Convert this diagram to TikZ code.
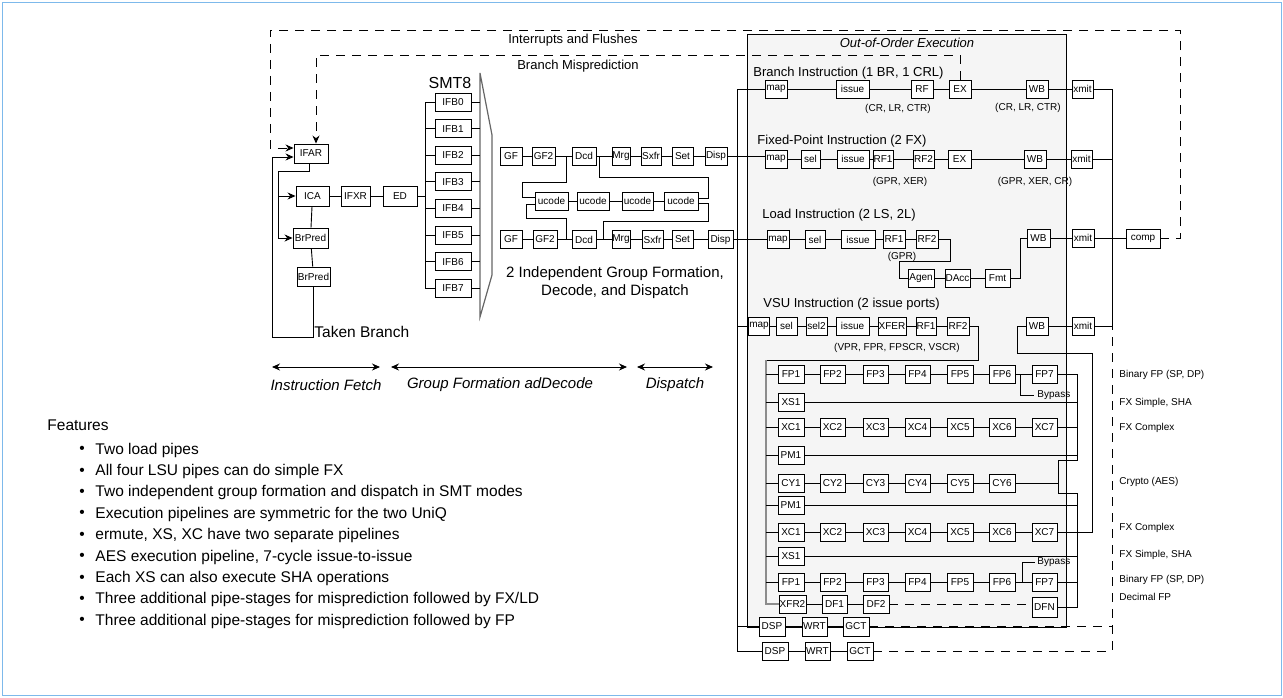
\documentclass[tikz,border=0pt]{standalone}
\usepackage{fontspec}
\setmainfont{Liberation Sans}
\usetikzlibrary{arrows.meta}
\definecolor{oooFill}{RGB}{245,245,245}
\definecolor{frameblue}{RGB}{125,185,235}
\tikzset{
 bx/.style={draw=black, fill=white, line width=0.9pt, inner sep=0.4pt, font=\fontsize{10}{11}\selectfont},
 dsh/.style={line width=0.9pt, dash pattern=on 9pt off 7pt},
 arr/.style={-{Stealth[length=8pt,width=7pt]}},
 darr/.style={{Stealth[length=8pt,width=7pt]}-{Stealth[length=8pt,width=7pt]}, line width=0.9pt},
 sec/.style={font=\fontsize{13}{15}\selectfont, anchor=west, inner sep=0},
 note/.style={font=\fontsize{10}{12}\selectfont, inner sep=0},
 big/.style={font=\fontsize{15}{18}\selectfont, inner sep=0},
 graybus/.style={draw=black!45, line width=1.4pt},
}
\newcommand{\pb}[6][18]{\node[bx,minimum width={#4pt-#3pt},minimum height=#1pt] (#2) at ({(#3+#4)/2},#5) {#6};}
\begin{document}
\begin{tikzpicture}[x=1pt,y=-1pt,line width=0.9pt]
\useasboundingbox (0,0) rectangle (1283,697);
\draw[draw=frameblue,line width=1pt] (2,2) rectangle (1281,695);
% out-of-order box
\draw[fill=oooFill,line width=0.9pt] (747,34) rectangle (1066,627);
\node[font=\itshape\fontsize{13}{15}\selectfont] (ooot) at (907,43) {Out-of-Order Execution};

% ---------------- fetch ----------------
\pb[19]{ifar}{294}{328}{153.5}{IFAR}
\pb[20]{ica}{296}{329}{196}{ICA}
\pb[20]{ifxr}{341}{370}{196}{IFXR}
\pb[20]{ed}{383}{417}{196}{ED}
\pb[20]{brp1}{293}{328}{238}{BrPred}
\pb[19]{brp2}{297}{330}{276.5}{BrPred}
\foreach \i in {0,...,7}{
  \pgfmathsetmacro\yy{102+26.6*\i}
  \pb{ifb\i}{435}{471}{\yy}{IFB\i}
}
\node[font=\fontsize{16}{18}\selectfont,inner sep=0] (smt) at (450,83) {SMT8};
\draw[draw=black!60,line width=1.2pt] (480,73) -- (492,135) -- (492,275) -- (480,317) -- cycle;

\coordinate (fj) at (278,171);
\draw ([xshift=-2pt]ifar.south) |- (fj) -- (fj |- brp1.west);
\draw[arr] (fj |- ica.west) -- (ica.west);
\draw[arr] (fj |- brp1.west) -- (brp1.west);
\draw (ica) -- (brp1);
\draw (brp1) -- (brp2);
\draw (ica) -- (ifxr);
\draw (ifxr) -- (ed);
\coordinate (tb) at (272,337);
\draw[arr] (brp2.south) |- (tb) |- ([yshift=-3.5pt]ifar.west);
\node[big,anchor=west,font=\fontsize{15.5}{18}\selectfont] (tbl) at (314,332) {Taken Branch};

\coordinate (eb) at (425,196);
\draw (ed.east) -- (eb);
\draw (ifb0.west -| eb) -- (ifb7.west -| eb);
\foreach \i in {0,...,7}{
  \draw (ifb\i.west -| eb) -- (ifb\i.west);
  \draw (ifb\i.east) -- ++(9,0);
}

% ---------------- group formation ----------------
\pb{rag}{500}{522}{156}{GF}
\pb{rag2}{532}{555}{156}{GF2}
\pb{radc}{572}{596}{156}{Dcd}
\pb{ramg}{612}{630}{156}{Mrg}
\pb{rasx}{641}{661}{156}{Sxfr}
\pb{rast}{672}{693}{156}{Set}
\pb{radp}{705}{727}{156}{Disp}
\pb{uc1}{535}{568}{201}{ucode}
\pb{uc2}{577}{609}{201}{ucode}
\pb{uc3}{622}{653}{201}{ucode}
\pb{uc4}{664}{698}{201}{ucode}
\pb{rbg}{500}{522}{239.5}{GF}
\pb{rbg2}{533}{557}{239.5}{GF2}
\pb{rbdc}{572}{596}{239.5}{Dcd}
\pb{rbmg}{612}{630}{239.5}{Mrg}
\pb{rbsx}{642}{663}{239.5}{Sxfr}
\pb{rbst}{672}{693}{239.5}{Set}
\pb{rbdp}{708}{733}{239.5}{Disp}
\draw (rag) -- (rag2) -- (radc) -- (ramg) -- (rasx) -- (rast) -- (radp);
\draw (rbg) -- (rbg2) -- (rbdc) -- (rbmg) -- (rbsx) -- (rbst) -- (rbdp);
\draw (uc1) -- (uc2) -- (uc3) -- (uc4);
\draw (566,156) |- (522,182) |- ([yshift=4pt]uc1.west);
\draw (599,156) |- (708,177) |- ([yshift=3pt]uc4.east);
\draw ([yshift=-3pt]uc1.west) -| (526,218) -| (566,239.5);
\draw ([yshift=-2pt]uc4.east) -| (708,221) -| (603,239.5);
\node[align=center,font=\fontsize{15}{18}\selectfont,inner sep=0] (gfl) at (615,283) {2 Independent Group Formation,\\Decode, and Dispatch};

% ---------------- branch ----------------
\node[sec] (bsec) at (753,73) {Branch Instruction (1 BR, 1 CRL)};
\pb{bmap}{765}{787}{89}{map}
\pb{biss}{836}{869}{89}{issue}
\pb{brf}{911}{933}{89}{RF}
\pb{bex}{949}{971}{89}{EX}
\pb{bwb}{1026}{1048}{89}{WB}
\pb{bxm}{1072}{1093}{89}{xmit}
\draw (bmap) -- (biss) -- (brf) -- (bex) -- (bwb) -- (bxm);
\node[note] (bn1) at (898,109) {(CR, LR, CTR)};
\node[note] (bn2) at (1028,108) {(CR, LR, CTR)};

% ---------------- fixed point ----------------
\node[sec] (fsec) at (757,141) {Fixed-Point Instruction (2 FX)};
\pb{fxmap}{765}{787}{159}{map}
\pb{fxsel}{801}{820}{159}{sel}
\pb{fxiss}{837}{869}{159}{issue}
\pb{fxrf1}{873}{893}{159}{RF1}
\pb{fxrf2}{913}{934}{159}{RF2}
\pb{fxex}{948}{971}{159}{EX}
\pb{fxwb}{1024}{1046}{159}{WB}
\pb{fxxm}{1071}{1092}{159}{xmit}
\draw (fxmap) -- (fxsel) -- (fxiss) -- (fxrf1) -- (fxrf2) -- (fxex) -- (fxwb) -- (fxxm);
\node[note] (fn1) at (900,182) {(GPR, XER)};
\node[note] (fn2) at (1035,182) {(GPR, XER, CR)};

% ---------------- load ----------------
\node[sec] (lsec) at (762,215) {Load Instruction (2 LS, 2L)};
\pb{ldmap}{767}{789}{239.5}{map}
\pb{ldsel}{805}{825}{239.5}{sel}
\pb{ldiss}{841}{875}{239.5}{issue}
\pb{ldrf1}{883}{905}{239.5}{RF1}
\pb{ldrf2}{916}{938}{239.5}{RF2}
\pb{ldag}{908}{934}{278}{Agen}
\pb{ldda}{945}{970}{278}{DAcc}
\pb{ldfmt}{985}{1010}{278}{Fmt}
\pb{ldwb}{1027}{1050}{238}{WB}
\pb{ldxm}{1072}{1094}{238}{xmit}
\pb[19]{ldcomp}{1126}{1160}{238.5}{comp}
\draw (ldmap) -- (ldsel) -- (ldiss) -- (ldrf1) -- (ldrf2);
\draw (ldrf2.east) -| (950,261) -| (899,278) -- (ldag.west);
\draw (ldag) -- (ldda) -- (ldfmt);
\draw (ldfmt.east) -| (1020,238) -- (ldwb.west);
\draw (ldwb) -- (ldxm);
\draw (ldxm.east) -- (ldxm.east -| ldcomp.west);
\node[note] (ln1) at (902,257) {(GPR)};

% ---------------- VSU ----------------
\node[sec] (vsec) at (763,304) {VSU Instruction (2 issue ports)};
\pb{vmap}{749}{769}{326}{map}
\pb{vsel}{776}{797}{326}{sel}
\pb{vsel2}{806}{827}{326}{sel2}
\pb{viss}{836}{869}{326}{issue}
\pb{vxfer}{878}{906}{326}{XFER}
\pb{vrf1}{916}{936}{326}{RF1}
\pb{vrf2}{947}{969}{326}{RF2}
\pb{vwb}{1026}{1048}{326}{WB}
\pb{vxm}{1072}{1094}{326}{xmit}
\draw (vmap) -- (vsel) -- (vsel2) -- (viss) -- (vxfer) -- (vrf1) -- (vrf2);
\draw (vwb) -- (vxm);
\node[note] (vn1) at (897,348) {(VPR, FPR, FPSCR, VSCR)};

% ---------------- execution units ----------------
\foreach \n/\a/\b in {1/778/804,2/820/845,3/863/888,4/905/930,5/947/973,6/989/1015,7/1032/1057}{
  \pb{fpa\n}{\a}{\b}{374}{FP\n}
  \pb{xca\n}{\a}{\b}{427}{XC\n}
  \pb{xcb\n}{\a}{\b}{532}{XC\n}
  \pb{fpb\n}{\a}{\b}{582}{FP\n}
}
\foreach \n/\a/\b in {1/778/804,2/820/845,3/863/888,4/905/930,5/947/973,6/989/1015}{
  \pb{cy\n}{\a}{\b}{483}{CY\n}
}
\pb{xsa}{778}{804}{402}{XS1}
\pb{pma}{778}{804}{455}{PM1}
\pb{pmb}{778}{804}{505}{PM1}
\pb{xsb}{778}{804}{556}{XS1}
\pb{xfr}{779}{806}{604}{XFR2}
\pb{df1}{822}{847}{604}{DF1}
\pb{df2}{863}{889}{604}{DF2}
\pb[20]{dfn}{1032}{1057}{607}{DFN}
\foreach \i in {1,...,6}{
  \pgfmathtruncatemacro\j{\i+1}
  \draw (fpa\i) -- (fpa\j);
  \draw (xca\i) -- (xca\j);
  \draw (xcb\i) -- (xcb\j);
  \draw (fpb\i) -- (fpb\j);
}
\foreach \i in {1,...,5}{
  \pgfmathtruncatemacro\j{\i+1}
  \draw (cy\i) -- (cy\j);
}
\draw (xfr) -- (df1) -- (df2);
\draw[dsh] (df2.east) -- (dfn.west |- df2.east);

% issue bus from VSU RF2
\draw (vrf2.east) -| (978,360) -- (766,360);
\draw[graybus] (766,360) |- (xfr.west);
\coordinate (ib) at (766,0);
\foreach \nd in {fpa1,xsa,xca1,pma,cy1,pmb,xcb1,xsb,fpb1}{
  \draw (ib |- \nd.west) -- (\nd.west);
}

% result buses
\coordinate (ob) at (1077,0);
\coordinate (ob2) at (1058,0);
\draw (fpa7.east) -- (1077,374) -- (1077,460) -- (1058,460) -- (1058,493) -- (1077,493) -- (1077,607) -- (dfn.east);
\foreach \nd in {xsa,xca7,pma,pmb,xsb,fpb7}{
  \draw (\nd.east) -- (\nd.east -| ob);
}
\draw (cy6.east) -- (cy6.east -| ob2);
\draw (xcb7.east) -| (1092,353) -| (1017,326) -- (vwb.west);

% bypasses
\draw (1020,374) |- (1034,395);
\node[note,anchor=west] (bp1) at (1037,395) {Bypass};
\draw (1022,582) |- (1035,562);
\node[note,anchor=west] (bp2) at (1037,562) {Bypass};

% right labels
\node[note,anchor=west] at (1119,375) {Binary FP (SP, DP)};
\node[note,anchor=west] at (1119,403) {FX Simple, SHA};
\node[note,anchor=west] at (1119,428) {FX Complex};
\node[note,anchor=west] at (1119,482) {Crypto (AES)};
\node[note,anchor=west] at (1119,528) {FX Complex};
\node[note,anchor=west] at (1119,555) {FX Simple, SHA};
\node[note,anchor=west] at (1119,580) {Binary FP (SP, DP)};
\node[note,anchor=west] at (1119,597) {Decimal FP};

% completion
\pb[19]{dsp1}{759}{785}{626.5}{DSP}
\pb[19]{wrt1}{802}{827}{626.5}{WRT}
\pb[19]{gct1}{843}{869}{626.5}{GCT}
\pb[18]{dsp2}{762}{788}{651}{DSP}
\pb[18]{wrt2}{805}{830}{651}{WRT}
\pb[18]{gct2}{847}{873}{651}{GCT}
\draw (dsp1) -- (wrt1) -- (gct1);
\draw (dsp2) -- (wrt2) -- (gct2);

% dispatch bus
\coordinate (busT) at (737,89);
\coordinate (busB) at (737,651);
\draw (busT) -- (busB);
\draw (radp.east) -- (fxmap.west |- radp.east);
\draw (rbdp.east) -- (ldmap.west |- rbdp.east);
\draw (busT) -- (bmap.west);
\draw (busT |- vmap.west) -- (vmap.west);
\draw (busT |- dsp1.west) -- (dsp1.west);
\draw (busB) -- (dsp2.west);

% xmit bus
\coordinate (xb1) at (1112,89);
\coordinate (xb2) at (1112,326);
\draw (xb1) -- (xb2);
\draw (bxm.east) -- (xb1);
\draw (fxxm.east) -- (fxxm.east -| xb1);
\draw (vxm.east) -- (xb2);
\draw[dsh] (gct1.east) -- (gct1.east -| xb1);
\draw[dsh] (gct2.east) -| (xb2);

% flush / mispredict paths
\coordinate (i1) at (270,30);
\coordinate (i2) at (1180,30);
\draw[dsh,arr] (ldcomp.east) -| (i2) -- (i1) |- ([yshift=5.5pt]ifar.west);
\coordinate (m1) at (316,55);
\draw[dsh,arr] (bex.north) |- (m1) -- (m1 |- ifar.north);
\node[font=\fontsize{13}{15}\selectfont,inner sep=0] (intl) at (573,40) {Interrupts and Flushes};
\node[font=\fontsize{13}{15}\selectfont,inner sep=0] (bml) at (578,66) {Branch Misprediction};

% stage arrows
\draw[darr] (272,367) -- (380,367);
\draw[darr] (391,367) -- (627,367);
\draw[darr] (637,367) -- (713,367);
\node[font=\itshape\fontsize{15}{18}\selectfont,inner sep=0] at (326,385) {Instruction Fetch};
\node[font=\itshape\fontsize{15}{18}\selectfont,inner sep=0] at (500,385) {Group Formation adDecode};
\node[font=\itshape\fontsize{15}{18}\selectfont,inner sep=0] at (675,385) {Dispatch};

% features
\node[font=\fontsize{15.5}{18}\selectfont,anchor=west,inner sep=0] (feat) at (47,425) {Features};
\foreach \t [count=\k] in {{Two load pipes},{All four LSU pipes can do simple FX},{Two independent group formation and dispatch in SMT modes},{Execution pipelines are symmetric for the two UniQ},{ermute, XS, XC have two separate pipelines},{AES execution pipeline, 7-cycle issue-to-issue},{Each XS can also execute SHA operations},{Three additional pipe-stages for misprediction followed by FX/LD},{Three additional pipe-stages for misprediction followed by FP}}{
  \pgfmathsetmacro\yy{450+21.4*(\k-1)}
  \node[font=\fontsize{15.5}{18}\selectfont,inner sep=0] at (82,\yy) {\textbullet};
  \node[font=\fontsize{15.5}{18}\selectfont,anchor=west,inner sep=0] at (95,\yy) {\t};
}
\end{tikzpicture}
\end{document}
